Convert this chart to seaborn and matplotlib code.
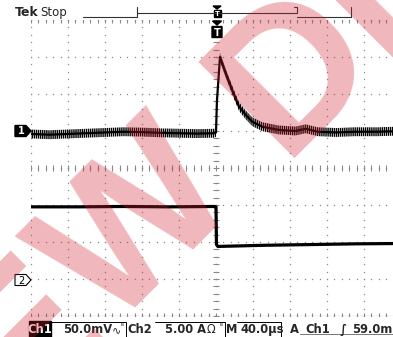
import numpy as np
import pandas as pd
import matplotlib
matplotlib.use("Agg")
import matplotlib.pyplot as plt
import seaborn as sns
from matplotlib.patches import Polygon, Rectangle, FancyBboxPatch

sns.set_theme(style="white")
plt.rcParams['font.family'] = ['DejaVu Sans']

# Channel 1: time (us) vs voltage (mV) relative to the Ch1 ground marker
ch1_time = [-200, -180, -160, -140, -120, -100, -80, -60, -40, -20, -2, 0, 1, 4.3,
            10.5, 17.6, 24.9, 32, 39.2, 50, 68, 86, 97, 110, 130, 150, 175, 200]
ch1_mv = [-4, -5, -4, -3, -2, -1, -1.5, -2.5, -3, -3.5, -3, -2, 40, 100,
          78, 55, 33, 22, 12.6, 5.8, 1.4, 0, 3, -1, -2, -1, -1, 0]
ch1_noise_mv = 6.0
# Channel 2: time (us) vs current (A) relative to the Ch2 ground marker
ch2_time = [-200, -150, -100, -50, -2, 0, 0.5, 2, 50, 100, 150, 200]
ch2_amp = [9.9, 9.9, 9.95, 9.9, 9.95, 9.9, 4.8, 4.55, 4.7, 4.8, 4.9, 4.95]

ch1_scale = 50.0   # mV/div
ch2_scale = 5.0    # A/div
ch1_ground = 1.0   # div
ch2_ground = -3.03 # div

W, H = 393, 337
fig = plt.figure(figsize=(W / 100, H / 100), dpi=100)
fig.patch.set_facecolor("white")

# graticule area in pixels: x 31 -> 401 (cut off at right), y 20 -> 316
ax = fig.add_axes([31 / W, (H - 316) / H, 370 / W, 296 / H])
ax.set_xlim(-200, 200)
ax.set_ylim(-4, 4)
ax.axis("off")

grid_c = "#8a8a8a"
# dotted graticule
for xv in range(-200, 201, 40):
    ys = np.arange(-4, 4.001, 0.2)
    ax.plot([xv] * len(ys), ys, ls="none", marker="s", ms=0.9, mew=0, color=grid_c, zorder=1)
for yv in range(-4, 5):
    xs = np.arange(-200, 200.1, 8)
    ax.plot(xs, [yv] * len(xs), ls="none", marker="s", ms=0.9, mew=0, color=grid_c, zorder=1)
# tick marks on the centre lines and edges
minor_x = np.arange(-200, 200.1, 8)
minor_y = np.arange(-4, 4.001, 0.2)
ax.plot(minor_x, [0] * len(minor_x), ls="none", marker="|", ms=4, mew=0.8, color=grid_c, zorder=1)
ax.plot([0] * len(minor_y), minor_y, ls="none", marker="_", ms=4, mew=0.8, color=grid_c, zorder=1)
ax.plot(minor_x, [4] * len(minor_x), ls="none", marker=3, ms=2.5, mew=0.8, color=grid_c, zorder=1)
ax.plot(minor_x, [-4] * len(minor_x), ls="none", marker=2, ms=2.5, mew=0.8, color=grid_c, zorder=1)
ax.plot([-200] * len(minor_y), minor_y, ls="none", marker=0, ms=2.5, mew=0.8, color=grid_c, zorder=1)
ax.plot([-200, 200], [-4, -4], color="#555555", lw=0.8, zorder=1)

# traces
df1 = pd.DataFrame({"t": ch1_time,
                    "y": [ch1_ground + v / ch1_scale for v in ch1_mv]})
df2 = pd.DataFrame({"t": ch2_time,
                    "y": [ch2_ground + v / ch2_scale for v in ch2_amp]})
band = ch1_noise_mv / ch1_scale
ax.fill_between(df1["t"], df1["y"] - band, df1["y"] + band, facecolor="none",
                edgecolor="black", hatch="||||||||", linewidth=0, zorder=2)
sns.lineplot(data=df1, x="t", y="y", ax=ax, color="black", lw=1.6, zorder=3,
             estimator=None, sort=False)
sns.lineplot(data=df2, x="t", y="y", ax=ax, color="black", lw=2.3, zorder=3,
             estimator=None, sort=False)
ax.set_xlim(-200, 200)
ax.set_ylim(-4, 4)
ax.axis("off")

# ---------------- overlay in pixel coordinates ----------------
ov = fig.add_axes([0, 0, 1, 1])
ov.set_xlim(0, W)
ov.set_ylim(H, 0)
ov.axis("off")
ov.patch.set_alpha(0)

# header
ov.text(15, 16, "Tek", fontsize=9, fontweight="bold", ha="left", va="baseline")
ov.text(40, 16, "Stop", fontsize=8.5, ha="left", va="baseline")
lc = "#333333"
ov.plot([83, 137], [17, 17], color=lc, lw=0.8)
ov.plot([137, 137], [7, 17], color=lc, lw=0.8)
ov.plot([137, 297], [13, 13], color=lc, lw=0.8)
ov.plot([297, 297], [7, 13], color=lc, lw=0.8)
ov.plot([294, 297], [7, 7], color=lc, lw=0.8)
ov.plot([297, 351], [17, 17], color=lc, lw=0.8)
ov.plot([351, 351], [7, 17], color=lc, lw=0.8)
# trigger position marker on the record bar
ov.add_patch(Polygon([[213, 6], [221, 6], [217, 9]], closed=True, color="black"))
ov.add_patch(Rectangle((213.5, 10), 7, 7, color="black"))
ov.text(217, 14.5, "T", color="white", fontsize=5, fontweight="bold", ha="center", va="center")
# trigger marker on the graticule
ov.add_patch(Polygon([[212.5, 21], [221.5, 21], [217, 25]], closed=True, color="black"))
ov.add_patch(FancyBboxPatch((212.5, 27), 9, 10, boxstyle="round,pad=0.5", color="black"))
ov.text(217, 32.5, "T", color="white", fontsize=7, fontweight="bold", ha="center", va="center")

# channel markers
ov.add_patch(Polygon([[15, 125.5], [26, 125.5], [31, 131], [26, 136.5], [15, 136.5]],
                     closed=True, color="black"))
ov.text(21, 131.5, "1", color="white", fontsize=7, fontweight="bold", ha="center", va="center")
ov.add_patch(Polygon([[15, 274.5], [26, 274.5], [31, 280], [26, 285.5], [15, 285.5]],
                     closed=True, facecolor="white", edgecolor="black", lw=0.8))
ov.text(21, 280.5, "2", color="black", fontsize=7, ha="center", va="center")

# status bar
ov.add_patch(Rectangle((29, 321), 22, 16, color="black"))
fs = 8.3
ov.text(40, 333, "Ch1", color="white", fontsize=fs, fontweight="bold", ha="center", va="baseline")
ov.plot([51, 126, 126], [321.5, 321.5, 337], color="black", lw=0.7)
ov.text(63, 333, "50.0mV", fontsize=fs, fontweight="bold", ha="left", va="baseline")
ov.text(112, 333, "\u223f", fontsize=8, ha="left", va="baseline")
ov.text(122, 329, "ᴮ", fontsize=5, ha="center", va="baseline")
ov.text(127, 333, "Ch2", fontsize=fs, fontweight="bold", ha="left", va="baseline")
ov.plot([155, 225, 225], [321.5, 321.5, 337], color="black", lw=0.7)
ov.text(165, 333, "5.00 A", fontsize=fs, fontweight="bold", ha="left", va="baseline")
ov.text(207, 333, "Ω", fontsize=fs, ha="left", va="baseline")
ov.text(221, 329, "ᴮ", fontsize=5, ha="center", va="baseline")
ov.text(226, 333, "M", fontsize=fs, fontweight="bold", ha="left", va="baseline")
ov.plot([237, 281, 281], [321.5, 321.5, 337], color="black", lw=0.7)
ov.text(240, 333, "40.0µs", fontsize=fs, fontweight="bold", ha="left", va="baseline")
ov.text(290, 333, "A", fontsize=fs, fontweight="bold", ha="left", va="baseline")
ov.plot([300, 393], [333.5, 333.5], color="#777777", lw=0.7)
ov.text(305, 333, "Ch1", fontsize=fs, fontweight="bold", ha="left", va="baseline")
ov.text(340, 333, "\u222b", fontsize=fs, fontweight="bold", ha="left", va="baseline")
ov.text(352, 333, "59.0m", fontsize=fs, fontweight="bold", ha="left", va="baseline")

# watermark
wm_color = "#d0202e"
for ch, cx, cy in [("E", 29, 339), ("W", 141, 230), ("D", 296, 72), ("E", 392, -24)]:
    ov.text(cx, cy, ch, fontsize=142, family="Liberation Sans", fontweight="bold",
            color=wm_color, alpha=0.32, rotation=45, rotation_mode="anchor",
            ha="center", va="center", zorder=10)

fig.savefig("out.png", dpi=100)
